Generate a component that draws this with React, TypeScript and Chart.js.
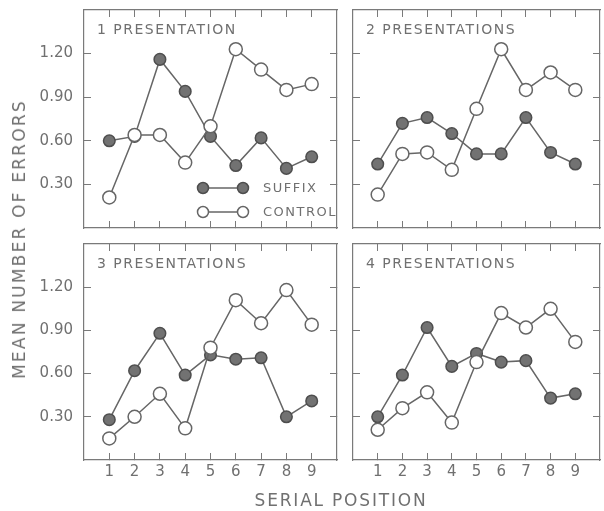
import React, { useEffect, useRef } from "react";
import { Chart, registerables } from "chart.js";

Chart.register(...registerables);

// ---------- data ----------
const positions = [1, 2, 3, 4, 5, 6, 7, 8, 9];
const yTickValues = [0.3, 0.6, 0.9, 1.2];
const panelTitles = ["1 PRESENTATION", "2 PRESENTATIONS", "3 PRESENTATIONS", "4 PRESENTATIONS"];
const seriesNames = ["SUFFIX", "CONTROL"];

const suffix1 = [0.6, 0.63, 1.16, 0.94, 0.63, 0.43, 0.62, 0.41, 0.49];
const control1 = [0.21, 0.64, 0.64, 0.45, 0.7, 1.23, 1.09, 0.95, 0.99];
const suffix2 = [0.44, 0.72, 0.76, 0.65, 0.51, 0.51, 0.76, 0.52, 0.44];
const control2 = [0.23, 0.51, 0.52, 0.4, 0.82, 1.23, 0.95, 1.07, 0.95];
const suffix3 = [0.28, 0.62, 0.88, 0.59, 0.73, 0.7, 0.71, 0.3, 0.41];
const control3 = [0.15, 0.3, 0.46, 0.22, 0.78, 1.11, 0.95, 1.18, 0.94];
const suffix4 = [0.3, 0.59, 0.92, 0.65, 0.74, 0.68, 0.69, 0.43, 0.46];
const control4 = [0.21, 0.36, 0.47, 0.26, 0.68, 1.02, 0.92, 1.05, 0.82];

const yAxisTitle = "MEAN NUMBER OF ERRORS";
const xAxisTitle = "SERIAL POSITION";

// ---------- styles ----------
const FONT = "'DejaVu Sans', sans-serif";
const AXIS = "#7a7a7a";
const LINE = "#666666";
const TEXT = "#707070";
const DOT = "#727272";
const DOT_BORDER = "#4e4e4e";
const TICK_LEN = 7;

type PanelCfg = {
  title: string;
  suffix: number[];
  control: number[];
  left: number; top: number; width: number; height: number;
  padL: number; padR: number; padT: number; padB: number;
  showX: boolean; showY: boolean; legend: boolean;
};

const zeroPad = (s: any) => {
  s.paddingLeft = 0; s.paddingRight = 0; s.paddingTop = 0; s.paddingBottom = 0;
};

function xScale(position: string, size: number, labels: boolean) {
  return {
    type: "linear",
    position,
    min: 0,
    max: 10,
    afterBuildTicks: (s: any) => { s.ticks = positions.map((v) => ({ value: v })); },
    afterFit: (s: any) => { s.height = size; zeroPad(s); },
    ticks: {
      display: labels,
      autoSkip: false,
      maxRotation: 0,
      padding: 10,
      color: TEXT,
      font: { family: FONT, size: 15 },
      callback: (v: any) => String(v),
    },
    grid: { drawOnChartArea: false, drawTicks: true, tickLength: -TICK_LEN, color: AXIS, tickWidth: 1 },
    border: { display: true, color: AXIS, width: 1.2 },
  };
}

function yScale(position: string, size: number, labels: boolean) {
  return {
    type: "linear",
    position,
    min: 0,
    max: 1.5,
    afterBuildTicks: (s: any) => { s.ticks = yTickValues.map((v) => ({ value: v })); },
    afterFit: (s: any) => { s.width = size; zeroPad(s); },
    ticks: {
      display: labels,
      autoSkip: false,
      padding: 18,
      color: TEXT,
      font: { family: FONT, size: 15 },
      callback: (v: any) => Number(v).toFixed(2),
    },
    grid: { drawOnChartArea: false, drawTicks: true, tickLength: -TICK_LEN, color: AXIS, tickWidth: 1 },
    border: { display: true, color: AXIS, width: 1.2 },
  };
}

const panelDecor = {
  id: "panelDecor",
  afterDraw(chart: any, _args: any, opts: any) {
    const { ctx, chartArea } = chart;
    ctx.save();
    ctx.fillStyle = TEXT;
    ctx.font = `14px ${FONT}`;
    (ctx as any).letterSpacing = "1.5px";
    ctx.textAlign = "left";
    ctx.textBaseline = "middle";
    ctx.fillText(opts.title, chartArea.left + 13, chartArea.top + 20);
    if (opts.legend) {
      ctx.font = `13px ${FONT}`;
      const rows = [
        { name: seriesNames[0], filled: true, y: chartArea.top + 178 },
        { name: seriesNames[1], filled: false, y: chartArea.top + 202 },
      ];
      const x0 = chartArea.left + 119;
      const x1 = chartArea.left + 159;
      for (const r of rows) {
        ctx.strokeStyle = LINE;
        ctx.lineWidth = 1.5;
        ctx.beginPath();
        ctx.moveTo(x0, r.y);
        ctx.lineTo(x1, r.y);
        ctx.stroke();
        for (const cx of [x0, x1]) {
          ctx.beginPath();
          ctx.arc(cx, r.y, 5.5, 0, Math.PI * 2);
          ctx.fillStyle = r.filled ? DOT : "#ffffff";
          ctx.fill();
          ctx.strokeStyle = r.filled ? DOT_BORDER : LINE;
          ctx.stroke();
        }
        ctx.fillStyle = TEXT;
        ctx.fillText(r.name, chartArea.left + 179, r.y + 1);
      }
    }
    ctx.restore();
  },
};

function Panel({ cfg }: { cfg: PanelCfg }) {
  const ref = useRef<HTMLCanvasElement | null>(null);
  useEffect(() => {
    if (!ref.current) return;
    const chart = new Chart(ref.current, {
      type: "line",
      data: {
        datasets: [
          {
            label: seriesNames[1],
            data: positions.map((p, i) => ({ x: p, y: cfg.control[i] })),
            borderColor: LINE,
            borderWidth: 1.5,
            pointRadius: 6.5,
            pointBackgroundColor: "#ffffff",
            pointBorderColor: LINE,
            pointBorderWidth: 1.5,
            tension: 0,
          },
          {
            label: seriesNames[0],
            data: positions.map((p, i) => ({ x: p, y: cfg.suffix[i] })),
            borderColor: LINE,
            borderWidth: 1.5,
            pointRadius: 5.8,
            pointBackgroundColor: DOT,
            pointBorderColor: DOT_BORDER,
            pointBorderWidth: 1.5,
            tension: 0,
          },
        ],
      },
      options: {
        animation: false,
        responsive: false,
        devicePixelRatio: 1,
        layout: { padding: 0 },
        plugins: {
          legend: { display: false },
          tooltip: { enabled: false },
          panelDecor: { title: cfg.title, legend: cfg.legend },
        } as any,
        scales: {
          x: xScale("bottom", cfg.padB, cfg.showX),
          x2: xScale("top", cfg.padT, false),
          y: yScale("left", cfg.padL, cfg.showY),
          y2: yScale("right", cfg.padR, false),
        } as any,
      },
      plugins: [panelDecor],
    });
    return () => chart.destroy();
  }, []);
  return (
    <canvas
      ref={ref}
      width={cfg.width}
      height={cfg.height}
      style={{ position: "absolute", left: cfg.left, top: cfg.top, width: cfg.width, height: cfg.height }}
    />
  );
}

const panels: PanelCfg[] = [
  { title: panelTitles[0], suffix: suffix1, control: control1, left: 0, top: 0, width: 345, height: 236, padL: 84, padR: 4, padT: 10, padB: 5, showX: false, showY: true, legend: true },
  { title: panelTitles[1], suffix: suffix2, control: control2, left: 345, top: 0, width: 263, height: 236, padL: 5, padR: 1, padT: 10, padB: 5, showX: false, showY: false, legend: false },
  { title: panelTitles[2], suffix: suffix3, control: control3, left: 0, top: 236, width: 345, height: 275, padL: 84, padR: 4, padT: 4, padB: 51, showX: true, showY: true, legend: false },
  { title: panelTitles[3], suffix: suffix4, control: control4, left: 345, top: 236, width: 263, height: 275, padL: 5, padR: 1, padT: 4, padB: 51, showX: true, showY: false, legend: false },
];

export default function App() {
  return (
    <div style={{ position: "absolute", left: 0, top: 0, width: 604, height: 511, overflow: "hidden", background: "#fff" }}>
      {panels.map((p, i) => <Panel key={i} cfg={p} />)}
      <div
        style={{
          position: "absolute", left: 19, top: 239, transform: "translate(-50%, -50%) rotate(-90deg)",
          whiteSpace: "nowrap", fontFamily: FONT, fontSize: 17, color: TEXT, letterSpacing: 2.2,
        }}
      >
        {yAxisTitle}
      </div>
      <div
        style={{
          position: "absolute", left: 341, top: 500, transform: "translate(-50%, -50%)",
          whiteSpace: "nowrap", fontFamily: FONT, fontSize: 17, color: TEXT, letterSpacing: 1.8,
        }}
      >
        {xAxisTitle}
      </div>
    </div>
  );
}
